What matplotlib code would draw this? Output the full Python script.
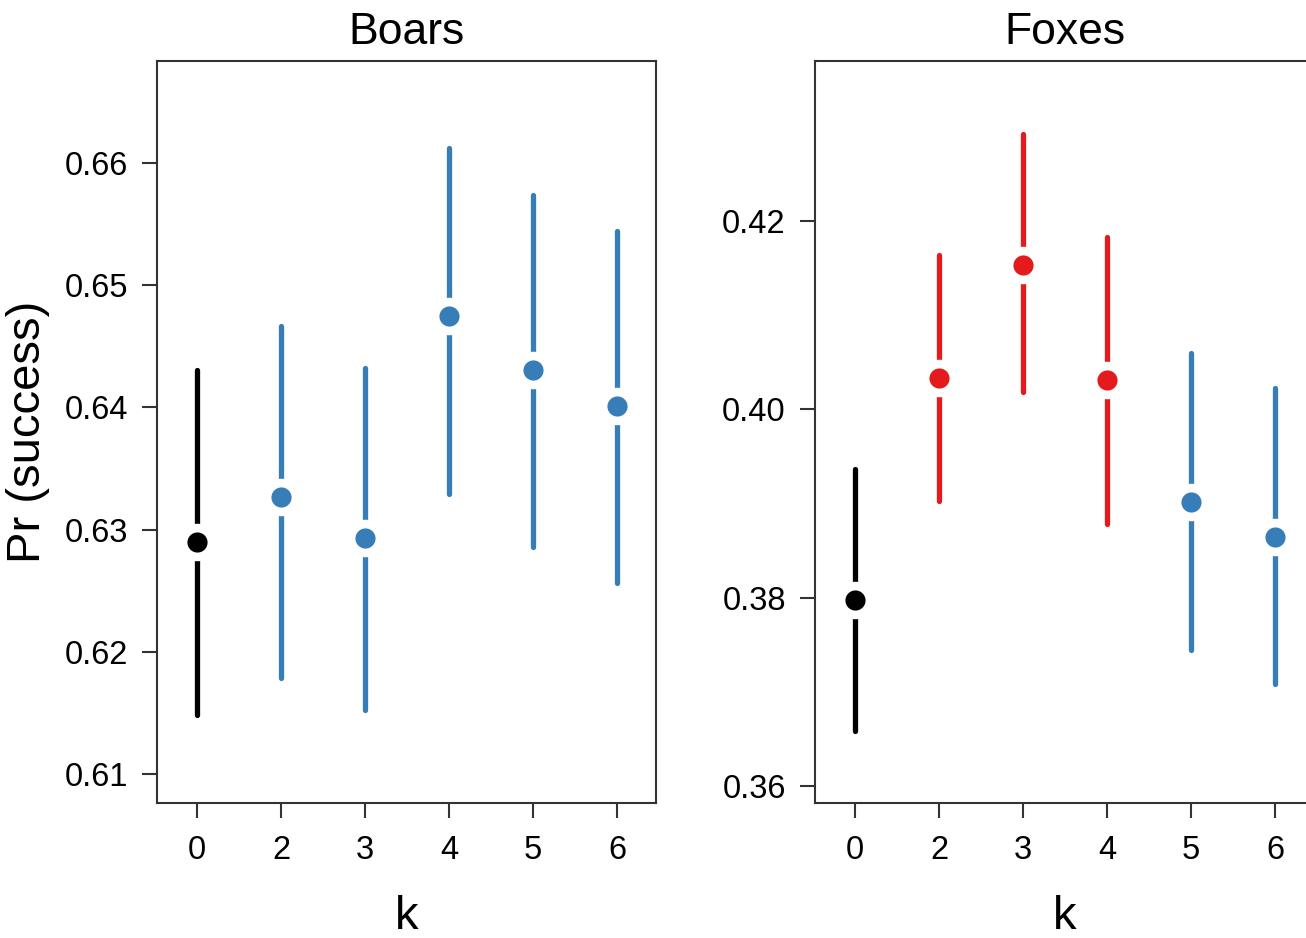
import matplotlib.pyplot as plt

plt.rcParams['font.family'] = ['Liberation Sans', 'DejaVu Sans']

k_labels = ["0", "2", "3", "4", "5", "6"]

# Boars
boars_mean = [0.6290, 0.6327, 0.6293, 0.6475, 0.6431, 0.6401]
boars_lo = [0.6148, 0.6179, 0.6152, 0.6329, 0.6286, 0.6256]
boars_hi = [0.6431, 0.6467, 0.6432, 0.6612, 0.6574, 0.6544]
boars_col = ["black", "#377EB8", "#377EB8", "#377EB8", "#377EB8", "#377EB8"]

# Foxes
foxes_mean = [0.3798, 0.4033, 0.4153, 0.4031, 0.3902, 0.3864]
foxes_lo = [0.3658, 0.3903, 0.4018, 0.3878, 0.3744, 0.3708]
foxes_hi = [0.3937, 0.4164, 0.4293, 0.4183, 0.4060, 0.4023]
foxes_col = ["black", "#E41A1C", "#E41A1C", "#E41A1C", "#377EB8", "#377EB8"]

fig = plt.figure(figsize=(13.06, 9.38), dpi=100)
ax1 = fig.add_axes([157/1306, 135/938, 499/1306, 742/938])
ax2 = fig.add_axes([815/1306, 135/938, 499/1306, 742/938])


def panel(ax, title, mean, lo, hi, cols, ylim, yticks):
    x = list(range(1, len(mean) + 1))
    for xi, m, l, h, c in zip(x, mean, lo, hi, cols):
        ax.plot([xi, xi], [l, h], color=c, lw=3.8, solid_capstyle="round", zorder=2)
        ax.plot(xi, m, "o", ms=27, color="white", mec="none", zorder=3)
        ax.plot(xi, m, "o", ms=14.5, color=c, mec="none", zorder=4)
    ax.set_xlim(0.524, 6.464)
    ax.set_ylim(*ylim)
    ax.set_xticks(x)
    ax.set_xticklabels(k_labels)
    ax.set_yticks(yticks)
    ax.set_yticklabels([f"{t:.2f}" for t in yticks])
    ax.tick_params(labelsize=23.5, length=11, width=1.5, color="#333333",
                   pad=10)
    ax.tick_params(axis="x", pad=12)
    for s in ax.spines.values():
        s.set_linewidth(1.5)
        s.set_color("#333333")
    ax.set_title(title, fontsize=32, pad=12)
    ax.set_xlabel("k", fontsize=34, labelpad=21)


panel(ax1, "Boars", boars_mean, boars_lo, boars_hi, boars_col,
      (0.60763, 0.66835), [0.61, 0.62, 0.63, 0.64, 0.65, 0.66])
panel(ax2, "Foxes", foxes_mean, foxes_lo, foxes_hi, foxes_col,
      (0.3582, 0.4370), [0.36, 0.38, 0.40, 0.42])
ax1.set_ylabel("Pr (success)", fontsize=34, labelpad=10)

fig.savefig("out.png", dpi=100)
